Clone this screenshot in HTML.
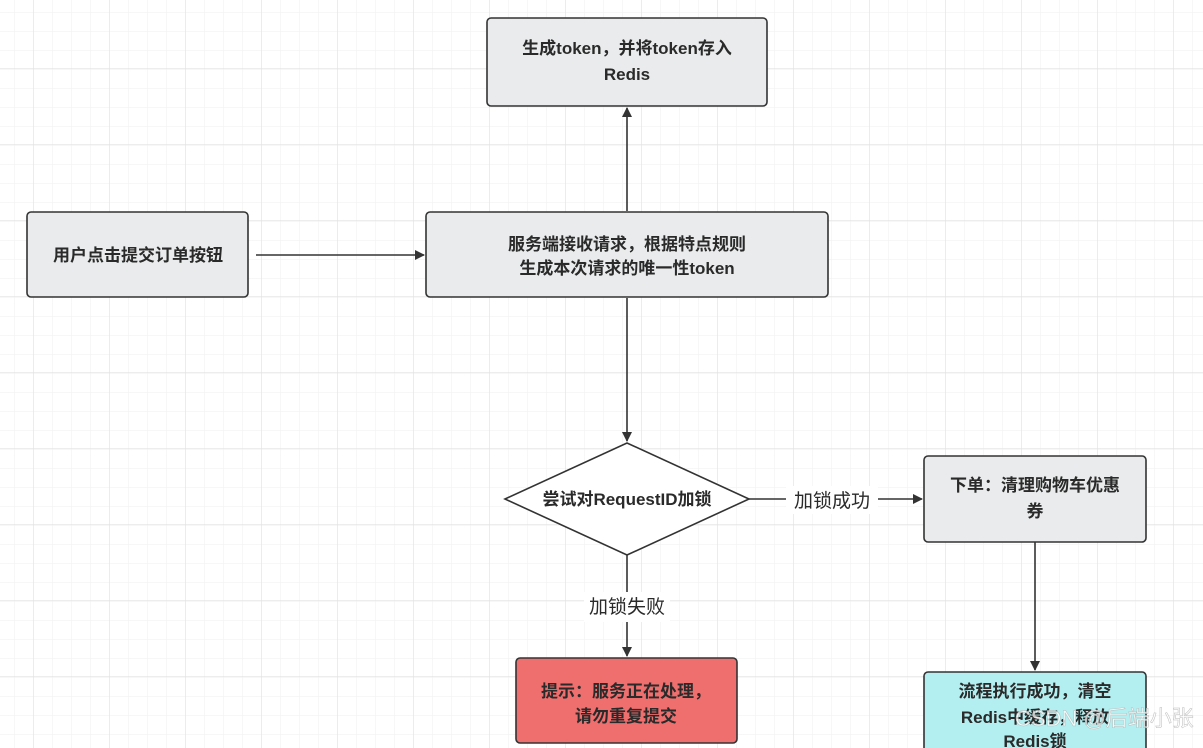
<!DOCTYPE html>
<html><head><meta charset="utf-8"><style>
html,body{margin:0;padding:0;background:#fff;}
svg{display:block;}
text{font-family:"Liberation Sans","Noto Sans CJK SC",sans-serif;font-weight:bold;fill:#2a2a2a;}
</style></head><body>
<svg width="1203" height="748" viewBox="0 0 1203 748" xmlns="http://www.w3.org/2000/svg">
<defs>
<pattern id="minor" width="19" height="19" patternUnits="userSpaceOnUse" x="14" y="12">
<path d="M0 0H19M0 0V19" stroke="#efefef" stroke-width="1" fill="none"/>
</pattern>
<pattern id="major" width="76" height="76" patternUnits="userSpaceOnUse" x="33" y="68">
<path d="M0 0H76M0 0V76" stroke="#e2e2e2" stroke-width="1.3" fill="none"/>
</pattern>
<marker id="ar" markerWidth="10" markerHeight="10" refX="9" refY="5" orient="auto" markerUnits="userSpaceOnUse">
<path d="M0 0L10 5L0 10Z" fill="#333"/>
</marker>
</defs>
<rect width="1203" height="748" fill="#fff"/>
<rect width="1203" height="748" fill="url(#minor)"/>
<rect width="1203" height="748" fill="url(#major)"/>

<g stroke="#333" stroke-width="1.6" fill="none">
<line x1="256" y1="255" x2="424" y2="255" marker-end="url(#ar)"/>
<line x1="627" y1="211" x2="627" y2="108" marker-end="url(#ar)"/>
<line x1="627" y1="298" x2="627" y2="441" marker-end="url(#ar)"/>
<line x1="749" y1="499" x2="922" y2="499" marker-end="url(#ar)"/>
<line x1="627" y1="555" x2="627" y2="656" marker-end="url(#ar)"/>
<line x1="1035" y1="542" x2="1035" y2="670" marker-end="url(#ar)"/>
</g>

<g stroke="#333" stroke-width="1.6">
<rect x="487" y="18" width="280" height="88" rx="4" fill="#e9ebec"/>
<rect x="27" y="212" width="221" height="85" rx="4" fill="#e9ebec"/>
<rect x="426" y="212" width="402" height="85" rx="4" fill="#e9ebec"/>
<rect x="924" y="456" width="222" height="86" rx="4" fill="#e9ebec"/>
<rect x="516" y="658" width="221" height="85" rx="4" fill="#ef6e6e"/>
<rect x="924" y="672" width="222" height="90" rx="4" fill="#b3eff0"/>
<path d="M505 499L627 443L749 499L627 555Z" fill="#fff"/>
</g>

<rect x="584" y="592" width="86" height="30" fill="#fff"/>
<rect x="786" y="486" width="92" height="28" fill="#fff"/>

<g font-size="17" text-anchor="middle">
<text x="627" y="54">生成token，并将token存入</text>
<text x="627" y="80">Redis</text>
<text x="138" y="261">用户点击提交订单按钮</text>
<text x="627" y="250">服务端接收请求，根据特点规则</text>
<text x="627" y="274">生成本次请求的唯一性token</text>
<text x="627" y="505">尝试对RequestID加锁</text>
<text x="1035" y="491">下单：清理购物车优惠</text>
<text x="1035" y="517">券</text>
<text x="626" y="697">提示：服务正在处理，</text>
<text x="626" y="722">请勿重复提交</text>
<text x="1035" y="697">流程执行成功，清空</text>
<text x="1035" y="723">Redis中缓存，释放</text>
<text x="1035" y="747">Redis锁</text>
</g>
<g font-size="19" text-anchor="middle">
<text x="627" y="613" style="font-weight:normal">加锁失败</text>
<text x="832" y="507" style="font-weight:normal">加锁成功</text>
</g>
<text x="1015" y="726" font-size="22" style="font-weight:normal;fill:#ffffff;opacity:0.75">CSDN @后端小张</text>
<text x="1015" y="726" font-size="22" style="font-weight:normal;fill:none;stroke:#bbb;stroke-width:0.5">CSDN @后端小张</text>
</svg>
</body></html>
